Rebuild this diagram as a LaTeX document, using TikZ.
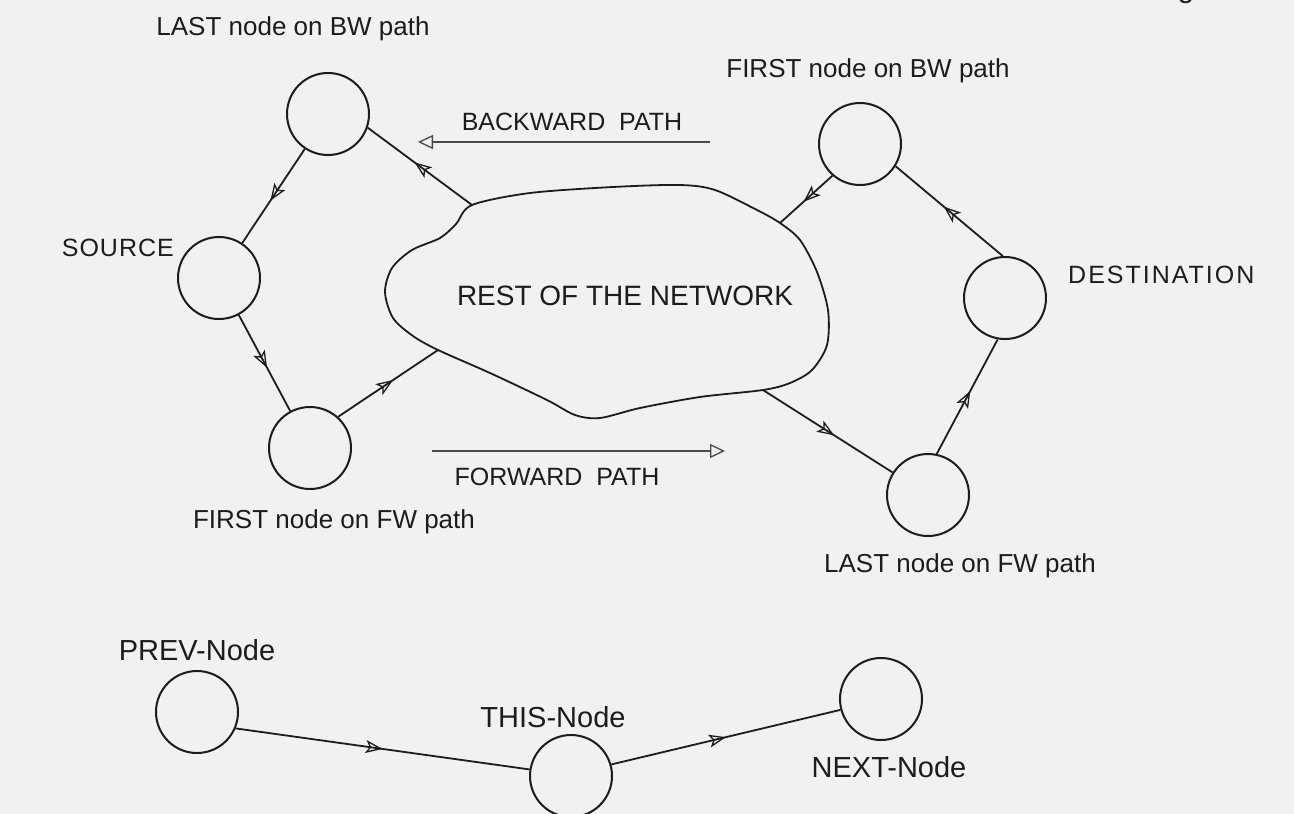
\documentclass[tikz,border=0pt]{standalone}
\usepackage{fontspec}
\setmainfont{Liberation Sans}
\usetikzlibrary{arrows.meta,decorations.markings}
\definecolor{paper}{RGB}{241,241,239}
\definecolor{ink}{RGB}{28,28,28}
\tikzset{
  netnode/.style={circle, draw=ink, line width=2pt, minimum size=82pt, inner sep=0pt},
  label/.style={text=ink, font=\fontsize{26}{29}\selectfont, inner sep=0pt, anchor=base},
  caplabel/.style={label, font=\fontsize{25}{28}\selectfont},
  biglabel/.style={label, font=\fontsize{28}{31}\selectfont},
  hoplabel/.style={label, font=\fontsize{29}{32}\selectfont},
  link/.style={draw=ink, line width=1.8pt},
  guide/.style={draw=ink!80, line width=1.1pt, -{Triangle[open, length=15pt, width=14pt, line width=1.3pt]}},
  midarrow/.style={postaction={decorate}, decoration={markings,
      mark=at position #1 with {\arrow{Stealth[open, length=17pt, width=13pt, inset=4pt, line width=1.3pt]}}}},
  midarrow/.default=0.55
}
\begin{document}
\begin{tikzpicture}[x=1pt, y=-1pt]
\useasboundingbox (0,0) rectangle (1294,814);
\fill[paper] (0,0) rectangle (1294,814);

% page reference cut by the top edge
\node[label, font=\fontsize{30}{32}\selectfont] (pageg) at (1186,-3) {g};

% nodes of the route
\node[netnode] (A) at (328,114) {};
\node[netnode] (B) at (219,278) {};
\node[netnode] (C) at (310,448) {};
\node[netnode] (D) at (860,144) {};
\node[netnode] (E) at (1005,298) {};
\node[netnode] (F) at (928,495) {};

% the cloud standing for the rest of the network
\coordinate (cTL) at (472,205);
\coordinate (cBL) at (438,350);
\coordinate (cTR) at (780,223);
\coordinate (cBR) at (763,390);
\draw[link] plot[smooth cycle, tension=0.5] coordinates {
  (472,205) (530,193) (613,187) (680,185) (715,190) (757,210) (780,223)
  (800,240) (817,272) (828,310) (827,345) (812,370) (790,383) (763,390)
  (700,397) (640,408) (600,418) (575,415) (547,400) (490,373) (438,350)
  (413,336) (393,318) (385,292) (392,268) (412,250) (440,238) (456,224)};

% connectors of the route
\draw[link, midarrow] (A) -- (B);
\draw[link, midarrow] (B) -- (C);
\draw[link, midarrow] (C.48) -- (cBL);
\draw[link, midarrow] (cTL) -- (A.-19);
\draw[link, midarrow] (D.229) -- (cTR);
\draw[link, midarrow] (E.93) -- (D.-32);
\draw[link, midarrow] (cBR) -- (F);
\draw[link, midarrow] (F.78) -- (E.-100);

% direction guides
\coordinate (bwS) at (710,142);
\coordinate (bwE) at (418,142);
\coordinate (fwS) at (432,451);
\coordinate (fwE) at (725,451);
\draw[guide] (bwS) -- (bwE);
\draw[guide] (fwS) -- (fwE);

% labels
\node[label] (lastbw) at (293,35) {LAST node on BW path};
\node[label] (firstbw) at (868,77) {FIRST node on BW path};
\node[caplabel, anchor=base east] (source) at (174,256) {\addfontfeature{LetterSpace=4}SOURCE};
\node[caplabel, anchor=base west] (dest) at (1068,283) {\addfontfeature{LetterSpace=8}DESTINATION};
\node[caplabel] (bwlabel) at (572,130) {BACKWARD\ \ PATH};
\node[caplabel] (fwlabel) at (557,485) {FORWARD\ \ PATH};
\node[biglabel] (rest) at (625,305) {REST OF THE NETWORK};
\node[label] (lastfw) at (960,572) {LAST node on FW path};
\node[label] (firstfw) at (334,528) {FIRST node on FW path};

% a single hop
\node[netnode] (P) at (197,712) {};
\node[netnode] (T) at (571,776) {};
\node[netnode] (N) at (881,699) {};
\draw[link, midarrow=0.5] (P.-23) -- (T.171);
\draw[link, midarrow=0.5] (T.16) -- (N.195);
\node[hoplabel] (prev) at (197,660) {PREV-Node};
\node[hoplabel] (this) at (553,727) {THIS-Node};
\node[hoplabel] (next) at (889,777) {NEXT-Node};
\end{tikzpicture}
\end{document}
